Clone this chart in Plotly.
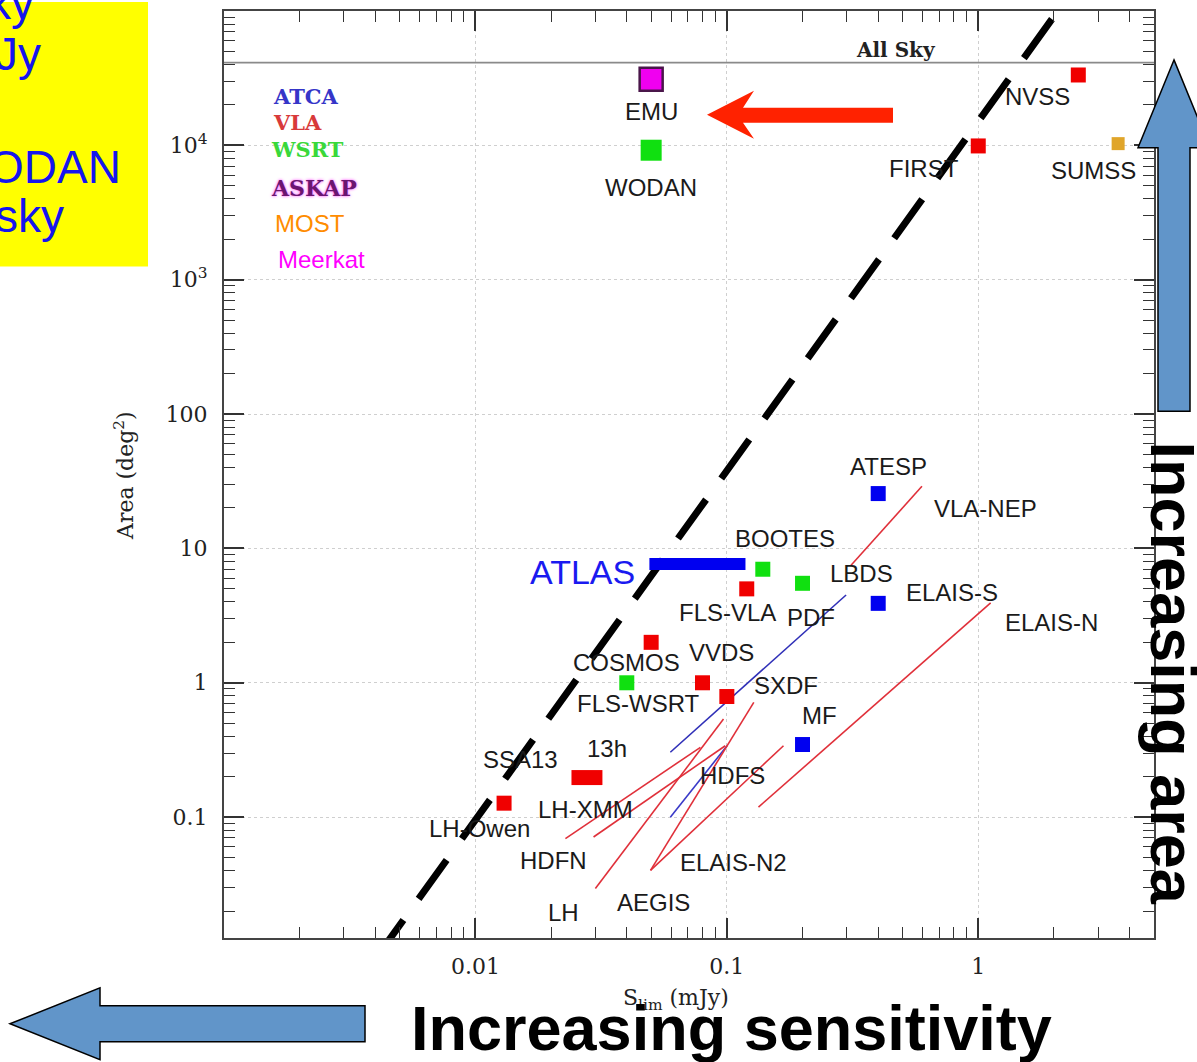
import math
import plotly.graph_objects as go

# ---------------- data ----------------
point_names = ["EMU", "WODAN", "NVSS", "FIRST", "SUMSS", "ATESP", "ELAIS-S", "MF",
               "BOOTES", "PDF", "FLS-VLA", "COSMOS", "FLS-WSRT", "VVDS", "SXDF", "SSA13"]
point_flux = [0.05, 0.05, 2.5, 1.0, 3.6, 0.4, 0.4, 0.2,
              0.139, 0.2, 0.12, 0.05, 0.04, 0.08, 0.1, 0.013]
point_area = [31000, 9200, 33400, 9900, 10300, 25.6, 3.9, 0.347,
              7.0, 5.5, 5.0, 2.0, 1.0, 1.0, 0.79, 0.127]
point_tel = ["ASKAP", "WSRT", "VLA", "VLA", "MOST", "ATCA", "ATCA", "ATCA",
             "WSRT", "WSRT", "VLA", "VLA", "WSRT", "VLA", "VLA", "VLA"]

bar_names = ["ATLAS", "13h"]
bar_flux_lo = [0.0492, 0.0241]
bar_flux_hi = [0.1186, 0.032]
bar_area = [7.65, 0.197]
bar_tel = ["ATCA", "VLA"]

track_names = ["VLA-NEP", "LBDS", "HDFS", "ELAIS-N", "ELAIS-N2", "AEGIS", "LH", "LH-XMM", "HDFN"]
track_flux_lo = [0.31, 0.0596, 0.0596, 0.1336, 0.0497, 0.0497, 0.030, 0.0295, 0.0228]
track_flux_hi = [0.597, 0.298, 0.1002, 1.12, 0.168, 0.128, 0.097, 0.0986, 0.0785]
track_area_lo = [7.39, 0.304, 0.100, 0.1187, 0.0402, 0.0402, 0.0294, 0.0711, 0.0691]
track_area_hi = [29.0, 4.5, 0.34, 3.93, 0.34, 0.714, 0.538, 0.34, 0.331]
track_tel = ["VLA", "WSRT", "ATCA", "VLA", "VLA", "VLA", "VLA", "VLA", "VLA"]

limit_flux = [0.004, 2.2]
limit_area = [0.0088, 117000]
all_sky_area = 41253

x_axis_range = [0.001, 5]
y_axis_range = [0.0126, 100000]
x_tick_vals = [0.01, 0.1, 1]
x_tick_text = ["0.01", "0.1", "1"]
y_tick_vals = [0.1, 1, 10, 100, 1000, 10000]
y_tick_text = ["0.1", "1", "10", "100", "10<sup>3</sup>", "10<sup>4</sup>"]

legend_names = ["ATCA", "VLA", "WSRT", "ASKAP", "MOST", "Meerkat"]
label_names = ["EMU", "WODAN", "NVSS", "FIRST", "SUMSS", "ATESP", "VLA-NEP", "BOOTES", "LBDS",
               "ELAIS-S", "ELAIS-N", "FLS-VLA", "PDF", "COSMOS", "VVDS", "FLS-WSRT", "SXDF", "MF",
               "13h", "SSA13", "LH-XMM", "HDFS", "LH-Owen", "HDFN", "ELAIS-N2", "AEGIS", "LH"]
box_lines = ["ky", "Jy", "ODAN", "sky"]

# ---------------- styles / layout ----------------
W, H = 1197, 1062
ML, MR, MT, MB = 224, 43, 9, 124
PW, PH = W - ML - MR, H - MT - MB


def px(x):
    return (x - ML) / PW


def py(y):
    return (H - MB - y) / PH


marker_color = {"ATCA": "#0000f0", "VLA": "#f00000", "WSRT": "#10e010",
                "ASKAP": "#f000f0", "MOST": "#e0a52a"}
track_color = {"VLA": "#e0303a", "WSRT": "#3030b8", "ATCA": "#3a3ac8"}
size_override = {"EMU": 23, "WODAN": 21, "SUMSS": 13}
label_pos = {
    "EMU": (651, 110), "WODAN": (651, 186), "NVSS": (1037, 95), "FIRST": (924, 167),
    "SUMSS": (1093, 169), "ATESP": (888, 465), "VLA-NEP": (985, 508), "BOOTES": (785, 538),
    "LBDS": (861, 573), "ELAIS-S": (952, 592), "ELAIS-N": (1051, 622), "FLS-VLA": (727, 612),
    "PDF": (811, 617), "COSMOS": (626, 662), "VVDS": (721, 652), "FLS-WSRT": (638, 703),
    "SXDF": (786, 685), "MF": (819, 715), "13h": (607, 748), "SSA13": (520, 759),
    "LH-XMM": (585, 809), "HDFS": (732, 775), "LH-Owen": (479, 828), "HDFN": (553, 860),
    "ELAIS-N2": (733, 862), "AEGIS": (653, 902), "LH": (563, 912),
}
legend_style = {
    "ATCA": dict(pos=(305, 95), color="#3535c8", family="DejaVu Serif", bold=True, size=21),
    "VLA": dict(pos=(297, 121), color="#d83a3a", family="DejaVu Serif", bold=True, size=21),
    "WSRT": dict(pos=(307, 148), color="#3ad83a", family="DejaVu Serif", bold=True, size=21),
    "ASKAP": dict(pos=(314, 186), color="#6a1670", family="DejaVu Serif", bold=True, size=22),
    "MOST": dict(pos=(310, 222), color="#ff8c00", family="Liberation Sans", bold=False, size=24),
    "Meerkat": dict(pos=(321, 258), color="#ff00ff", family="Liberation Sans", bold=False, size=24),
}
box_style = [(36, 1), (43, 52), (123, 165), (66, 214)]

SANS = "Liberation Sans, Arial, sans-serif"
SERIF = "DejaVu Serif, serif"

fig = go.Figure()

# survey tracks (thin lines)
for i in range(len(track_names)):
    fig.add_trace(go.Scatter(
        x=[track_flux_lo[i], track_flux_hi[i]], y=[track_area_lo[i], track_area_hi[i]],
        mode="lines", line=dict(color=track_color[track_tel[i]], width=1.6),
        hoverinfo="skip", showlegend=False))

# all-sky line
fig.add_trace(go.Scatter(x=x_axis_range, y=[all_sky_area, all_sky_area], mode="lines",
                         line=dict(color="#8a8a8a", width=1.6), hoverinfo="skip", showlegend=False))

# sensitivity limit (dashed)
fig.add_trace(go.Scatter(x=limit_flux, y=limit_area, mode="lines",
                         line=dict(color="black", width=7, dash="48px,26px"),
                         hoverinfo="skip", showlegend=False))

# range bars
bar_width = {"ATLAS": 12, "13h": 15}
for i in range(len(bar_names)):
    fig.add_trace(go.Scatter(
        x=[bar_flux_lo[i], bar_flux_hi[i]], y=[bar_area[i], bar_area[i]], mode="lines",
        line=dict(color=marker_color[bar_tel[i]], width=bar_width[bar_names[i]]),
        hoverinfo="skip", showlegend=False))

# survey points
fig.add_trace(go.Scatter(
    x=point_flux, y=point_area, mode="markers",
    marker=dict(symbol="square", opacity=1,
                size=[size_override.get(n, 15) for n in point_names],
                color=[marker_color[t] for t in point_tel],
                line=dict(color=["#4a164a" if t == "ASKAP" else "rgba(0,0,0,0)" for t in point_tel],
                          width=[2.5 if t == "ASKAP" else 0 for t in point_tel])),
    text=point_names, hoverinfo="text", showlegend=False))

annotations = []


def ann(text, x, y, size, color, family, **kw):
    d = dict(text=text, x=px(x), y=py(y), xref="paper", yref="paper", showarrow=False,
             font=dict(size=size, color=color, family=family), xanchor="center", yanchor="middle")
    d.update(kw)
    return d


# axis titles
annotations.append(ann("Area (deg<sup>2</sup>)", 124, 475, 22, "#222", SERIF, textangle=-90))
annotations.append(ann("S<sub>lim</sub> (mJy)", 676, 1000, 22, "#222", SERIF))

# all sky label
annotations.append(ann("<b>All Sky</b>", 896, 48, 20, "#222", SERIF))

# survey labels
for n in label_names:
    x, y = label_pos[n]
    annotations.append(ann(n, x, y, 24, "#1a1a1a", SANS))
annotations.append(ann("ATLAS", 582, 571, 34, "#1a1af0", SANS))

# telescope legend
for n in legend_names:
    st = legend_style[n]
    txt = "<b>%s</b>" % n if st["bold"] else n
    a = ann(txt, st["pos"][0], st["pos"][1], st["size"], st["color"], st["family"])
    if n == "ASKAP":
        a["font"]["shadow"] = "0px 0px 3px #ff30ff"
    annotations.append(a)

# yellow box text (cut at the page edge)
for t, (xr, yc) in zip(box_lines, box_style):
    annotations.append(ann(t, xr, yc, 46, "#1515ee", SANS, xanchor="right"))

# big captions
annotations.append(ann("<b>Increasing sensitivity</b>", 731, 1028, 63, "black", SANS))
annotations.append(ann("<b>Increasing area</b>", 1173, 672, 63, "black", SANS, textangle=90))


def path(points):
    s = "M %f,%f " % (px(points[0][0]), py(points[0][1]))
    for x, y in points[1:]:
        s += "L %f,%f " % (px(x), py(y))
    return s + "Z"


shapes = [
    dict(type="rect", xref="paper", yref="paper", x0=px(0), x1=px(148), y0=py(265), y1=py(0),
         fillcolor="#ffff00", line=dict(width=0), layer="above"),
    dict(type="path", xref="paper", yref="paper",
         path=path([(1174, 58), (1210, 146), (1190, 146), (1190, 410), (1158, 410), (1158, 146), (1138, 146)]),
         fillcolor="#6195c9", line=dict(color="black", width=1.5), layer="above"),
    dict(type="path", xref="paper", yref="paper",
         path=path([(10, 1024), (100, 988), (100, 1006), (365, 1006), (365, 1042), (100, 1042), (100, 1060)]),
         fillcolor="#6195c9", line=dict(color="black", width=1.5), layer="above"),
    dict(type="path", xref="paper", yref="paper",
         path=path([(707, 113), (754, 89), (743, 106), (893, 106), (893, 121), (743, 121), (754, 137)]),
         fillcolor="#ff2200", line=dict(width=0), layer="above"),
]

axis_common = dict(
    type="log", tickmode="array", ticks="inside", ticklen=20, tickwidth=1.5, tickcolor="#333",
    showline=True, linecolor="#444", linewidth=2, mirror="allticks",
    showgrid=True, gridcolor="#cfcfcf", griddash="dot", gridwidth=1.2, zeroline=False,
    minor=dict(ticks="inside", ticklen=11, tickwidth=1.3, tickcolor="#333", dtick="D1", showgrid=False),
    tickfont=dict(family=SERIF, size=22, color="#222"),
)

fig.update_layout(
    width=W, height=H, margin=dict(l=ML, r=MR, t=MT, b=MB, pad=0),
    paper_bgcolor="white", plot_bgcolor="white", showlegend=False,
    xaxis=dict(axis_common, range=[math.log10(x_axis_range[0]), math.log10(x_axis_range[1])],
               tickvals=x_tick_vals, ticktext=x_tick_text, ticklabelstandoff=8),
    yaxis=dict(axis_common, range=[math.log10(y_axis_range[0]), math.log10(y_axis_range[1])],
               tickvals=y_tick_vals, ticktext=y_tick_text, ticklabelstandoff=10),
    annotations=annotations, shapes=shapes,
)

fig.write_html("out.html", config={"displayModeBar": False},
               post_script="document.body.style.margin='0';document.body.style.overflow='hidden';")
